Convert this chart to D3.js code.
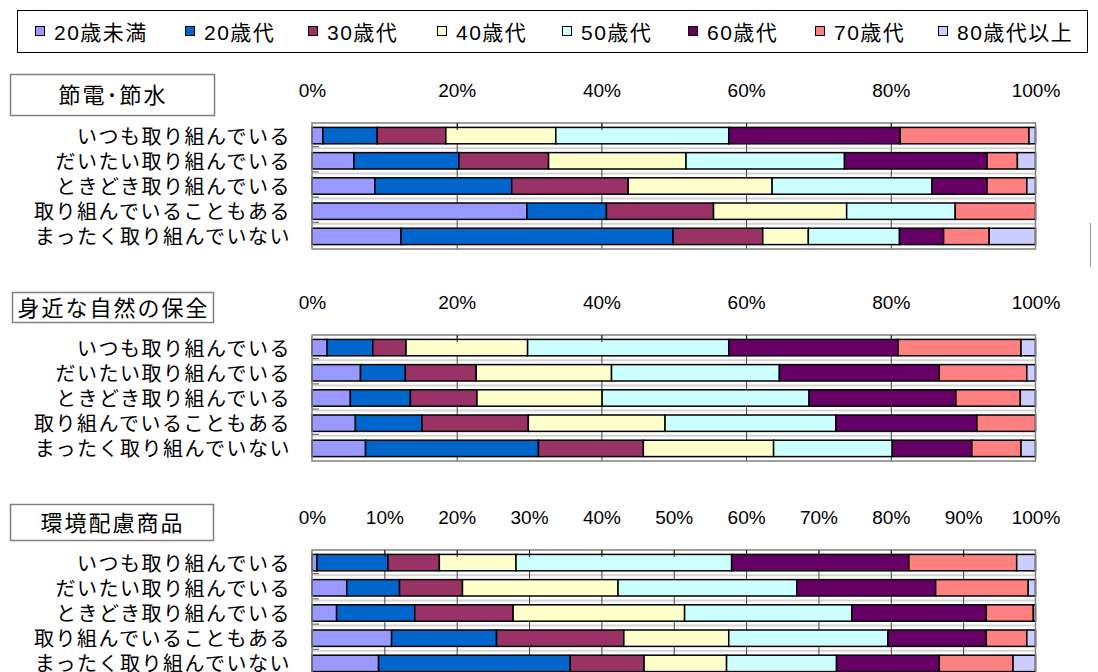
<!DOCTYPE html>
<html>
<head>
<meta charset="utf-8">
<script src="https://cdn.jsdelivr.net/npm/d3@7"></script>
<style>
  html, body { margin: 0; padding: 0; background: #fff; }
  svg { display: block; }
</style>
</head>
<body>
<svg id="chart" width="1098" height="672"></svg>
<script>
// Response categories (rows of each panel)
const categories = [
  "いつも取り組んでいる",
  "だいたい取り組んでいる",
  "ときどき取り組んでいる",
  "取り組んでいることもある",
  "まったく取り組んでいない"
];

// Age groups (stacked series)
const ageGroups = ["20歳未満", "20歳代", "30歳代", "40歳代", "50歳代", "60歳代", "70歳代", "80歳代以上"];

// Share (%) of each age group within each response, one row per category
const savingValues = [
  [1.5, 7.5, 9.5, 15.2, 23.9, 23.7, 17.8, 0.9],
  [5.8, 14.5, 12.4, 19.0, 21.9, 19.7, 4.2, 2.5],
  [8.7, 18.9, 16.1, 19.9, 22.1, 7.6, 5.5, 1.2],
  [29.7, 11.0, 14.8, 18.4, 15.0, 0, 11.1, 0],
  [12.3, 37.6, 12.4, 6.3, 12.6, 6.1, 6.3, 6.4]
];
const natureValues = [
  [2.1, 6.3, 4.6, 16.8, 27.8, 23.4, 17.0, 2.0],
  [6.7, 6.2, 9.8, 18.7, 23.2, 22.1, 12.1, 1.2],
  [5.3, 8.3, 9.2, 17.3, 28.6, 20.3, 8.9, 2.1],
  [6.0, 9.2, 14.7, 18.9, 23.6, 19.5, 8.1, 0],
  [7.4, 23.9, 14.5, 18.0, 16.4, 11.0, 6.8, 2.0]
];
const ecoProductValues = [
  [0.7, 9.8, 7.1, 10.6, 29.8, 24.5, 14.9, 2.6],
  [4.8, 7.3, 8.7, 21.5, 24.7, 19.2, 12.8, 1.0],
  [3.4, 10.8, 13.6, 23.7, 23.1, 18.6, 6.5, 0.3],
  [11.0, 14.5, 17.6, 14.5, 22.0, 13.6, 5.6, 1.2],
  [9.2, 26.5, 10.2, 11.4, 15.2, 14.2, 10.2, 3.1]
];

// Panel titles and percentage ticks
const panelTitles = ["節電･節水", "身近な自然の保全", "環境配慮商品"];
const ticksBy20 = [0, 20, 40, 60, 80, 100];
const ticksBy10 = [0, 10, 20, 30, 40, 50, 60, 70, 80, 90, 100];

// Colours for the age groups
const colors = ["#9999FF", "#0066CC", "#993366", "#FFFFCC", "#CCFFFF", "#660066", "#FF8080", "#CCCCFF"];

const svg = d3.select("#chart");
const FONT = "'Liberation Sans', 'Noto Sans CJK JP', sans-serif";

// ---- Legend ----
const legendX = [35, 185, 308, 437, 562, 688, 815, 938];
svg.append("rect")
  .attr("x", 17.5).attr("y", 10.5).attr("width", 1070).attr("height", 42)
  .attr("fill", "#fff").attr("stroke", "#000").attr("stroke-width", 1);
const legend = svg.append("g").selectAll("g").data(ageGroups).join("g")
  .attr("transform", (d, i) => `translate(${legendX[i]},32)`);
legend.append("rect")
  .attr("x", 0.5).attr("y", -5.5).attr("width", 9).attr("height", 9)
  .attr("fill", (d, i) => colors[i]).attr("stroke", "#000").attr("stroke-width", 1);
legend.append("text")
  .attr("x", 19).attr("y", 0)
  .attr("dominant-baseline", "central")
  .style("font-family", FONT).style("font-size", "21px").style("letter-spacing", "1.5px")
  .attr("fill", "#000")
  .text(d => d);

// ---- Panels ----
const panels = [
  { title: panelTitles[0], values: savingValues, ticks: ticksBy20, top: 123,
    box: { x: 10, y: 74, w: 204, h: 41 } },
  { title: panelTitles[1], values: natureValues, ticks: ticksBy20, top: 335,
    box: { x: 12, y: 292, w: 201, h: 30 } },
  { title: panelTitles[2], values: ecoProductValues, ticks: ticksBy10, top: 550,
    box: { x: 10, y: 504, w: 203, h: 36 } }
];

const plotLeft = 312, plotRight = 1035.5, plotHeight = 126;

panels.forEach(p => {
  const g = svg.append("g");
  const x = d3.scaleLinear().domain([0, 100]).range([plotLeft, plotRight]);
  const y = d3.scaleBand().domain(categories)
    .range([p.top, p.top + plotHeight]).paddingInner(0.35).paddingOuter(0.175);

  // Title box
  g.append("rect")
    .attr("x", p.box.x + 0.5).attr("y", p.box.y + 0.5)
    .attr("width", p.box.w).attr("height", p.box.h)
    .attr("fill", "#fff").attr("stroke", "#808080").attr("stroke-width", 1.5);
  g.append("text")
    .attr("x", p.box.x + p.box.w / 2 + 1).attr("y", p.box.y + p.box.h / 2 + 1)
    .attr("text-anchor", "middle").attr("dominant-baseline", "central")
    .style("font-family", FONT).style("font-size", "22px").style("letter-spacing", "2px")
    .text(p.title);

  // Percentage tick labels
  const axis = d3.axisTop(x).tickValues(p.ticks).tickFormat(d => d + "%").tickSize(0).tickPadding(0);
  const ag = g.append("g").attr("transform", `translate(0,${p.top - 33})`).call(axis);
  ag.select(".domain").remove();
  ag.selectAll("text")
    .attr("y", 0).attr("dy", null)
    .attr("dominant-baseline", "central")
    .style("font-family", FONT).style("font-size", "19px").attr("fill", "#000");

  // Plot area background
  g.append("rect")
    .attr("x", plotLeft).attr("y", p.top)
    .attr("width", plotRight - plotLeft).attr("height", plotHeight)
    .attr("fill", "#fff");

  // Light separators between category rows
  const sepY = categories.slice(1).map(c => y(c) - y.step() * y.paddingInner() / 2);
  g.selectAll(".sep").data(sepY).join("line")
    .attr("x1", plotLeft).attr("x2", plotRight)
    .attr("y1", d => d).attr("y2", d => d)
    .attr("stroke", "#d4d4d4").attr("stroke-width", 2);
  g.selectAll(".sepTick").data(sepY).join("line")
    .attr("x1", plotLeft).attr("x2", plotLeft + 7)
    .attr("y1", d => d - 1.5).attr("y2", d => d - 1.5)
    .attr("stroke", "#555").attr("stroke-width", 1);

  // Vertical gridlines
  g.selectAll(".grid").data(p.ticks.slice(1, -1)).join("line")
    .attr("x1", d => x(d) + 0.5).attr("x2", d => x(d) + 0.5)
    .attr("y1", p.top).attr("y2", p.top + plotHeight)
    .attr("stroke", "#444").attr("stroke-width", 1);

  // Stacked bars
  const rows = p.values.map((v, i) => {
    const o = { category: categories[i] };
    ageGroups.forEach((a, j) => { o[a] = v[j]; });
    return o;
  });
  const stack = d3.stack().keys(ageGroups)(rows);
  g.selectAll(".series").data(stack).join("g")
    .attr("fill", (d, i) => colors[i])
    .selectAll("rect").data(d => d.filter(s => s[1] - s[0] > 0)).join("rect")
    .attr("x", d => x(d[0]))
    .attr("y", d => y(d.data.category))
    .attr("width", d => x(d[1]) - x(d[0]))
    .attr("height", y.bandwidth())
    .attr("stroke", "#000").attr("stroke-width", 1.5);

  // Frame
  g.append("rect")
    .attr("x", plotLeft).attr("y", p.top)
    .attr("width", plotRight - plotLeft).attr("height", plotHeight)
    .attr("fill", "none").attr("stroke", "#808080").attr("stroke-width", 1.5);

  // Top tick marks
  g.selectAll(".topTick").data(p.ticks.slice(1, -1)).join("line")
    .attr("x1", d => x(d) + 0.5).attr("x2", d => x(d) + 0.5)
    .attr("y1", p.top).attr("y2", p.top + 7)
    .attr("stroke", "#222").attr("stroke-width", 1);

  // Category labels
  g.selectAll(".cat").data(categories).join("text")
    .attr("x", 291)
    .attr("y", d => y(d) + y.bandwidth() / 2 + 1)
    .attr("text-anchor", "end").attr("dominant-baseline", "central")
    .style("font-family", FONT).style("font-size", "20px").style("letter-spacing", "1.5px")
    .attr("fill", "#000")
    .text(d => d);
});

// Stray vertical rule at the right edge
svg.append("line")
  .attr("x1", 1090.5).attr("x2", 1090.5).attr("y1", 223).attr("y2", 267)
  .attr("stroke", "#999").attr("stroke-width", 1);
</script>
</body>
</html>
